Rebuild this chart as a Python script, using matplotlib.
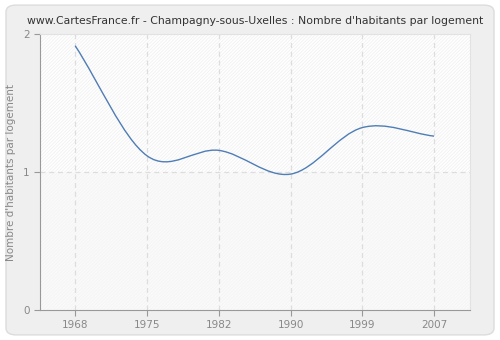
import numpy as np
import matplotlib
matplotlib.use("Agg")
import matplotlib.pyplot as plt
from matplotlib.path import Path
from matplotlib.patches import PathPatch, FancyBboxPatch

# data
years = ["1968", "1975", "1982", "1990", "1999", "2007"]
values = [1.915, 1.118, 1.157, 0.985, 1.322, 1.26]

plt.rcParams["hatch.linewidth"] = 0.5

fig = plt.figure(figsize=(5, 3.4), dpi=100)
fig.patch.set_facecolor("white")
# rounded grey panel behind everything
panel = FancyBboxPatch((0.012, 0.015), 0.976, 0.97, boxstyle="round,pad=0,rounding_size=0.02",
                       transform=fig.transFigure, facecolor="#efefef", edgecolor="#dcdcdc",
                       linewidth=1, zorder=-5)
fig.patches.append(panel)

ax = fig.add_axes([0.08, 0.088, 0.86, 0.812])
ax.set_zorder(2)
ax.set_facecolor("white")
trans = ax.get_yaxis_transform()
# upper half: white with hatch, lower half: light grey with fainter hatch
ax.add_patch(plt.Rectangle((0, 1), 1, 1, transform=trans, facecolor="white",
                           edgecolor="#efefef", hatch="/" * 10, linewidth=0, zorder=0))
ax.add_patch(plt.Rectangle((0, 0), 1, 1, transform=trans, facecolor="#fafafa",
                           edgecolor="#f3f3f3", hatch="/" * 10, linewidth=0, zorder=0))

# smooth line: bezier through the points, catmull-rom tangents
x = np.arange(len(values))
y = np.array(values)
verts = [(x[0], y[0])]
codes = [Path.MOVETO]
for i in range(len(x) - 1):
    m0 = (y[i + 1] - y[i - 1]) / 2 if i > 0 else (y[i + 1] - y[i])
    m1 = (y[i + 2] - y[i]) / 2 if i + 2 < len(y) else (y[i + 1] - y[i])
    verts += [(x[i] + 1 / 3, y[i] + m0 / 3), (x[i + 1] - 1 / 3, y[i + 1] - m1 / 3), (x[i + 1], y[i + 1])]
    codes += [Path.CURVE4] * 3
ax.add_patch(PathPatch(Path(verts, codes), facecolor="none", edgecolor="#4f7db5", linewidth=1.0, zorder=3))

ax.set_xlim(-0.49, 5.5)
ax.set_ylim(0, 2)
ax.set_xticks(x)
ax.set_xticklabels(years)
ax.set_yticks([0, 1, 2])

for xi in x:
    ax.axvline(xi, color="#dddddd", linestyle=(0, (4, 3)), linewidth=0.9, zorder=1)
ax.axhline(1, color="#dddddd", linestyle=(0, (4, 3)), linewidth=0.9, zorder=1)

for s in ["top", "right"]:
    ax.spines[s].set_color("#e2e2e2")
for s in ["left", "bottom"]:
    ax.spines[s].set_color("#999999")
ax.tick_params(colors="#999999", labelcolor="#888888", labelsize=7.5, length=4, direction="out")
ax.set_ylabel("Nombre d'habitants par logement", color="#888888", fontsize=7.5, labelpad=5)
ax.set_title("www.CartesFrance.fr - Champagny-sous-Uxelles : Nombre d'habitants par logement",
             fontsize=7.8, color="#333333", pad=7)

fig.savefig("out.png", dpi=100, facecolor=fig.get_facecolor())
